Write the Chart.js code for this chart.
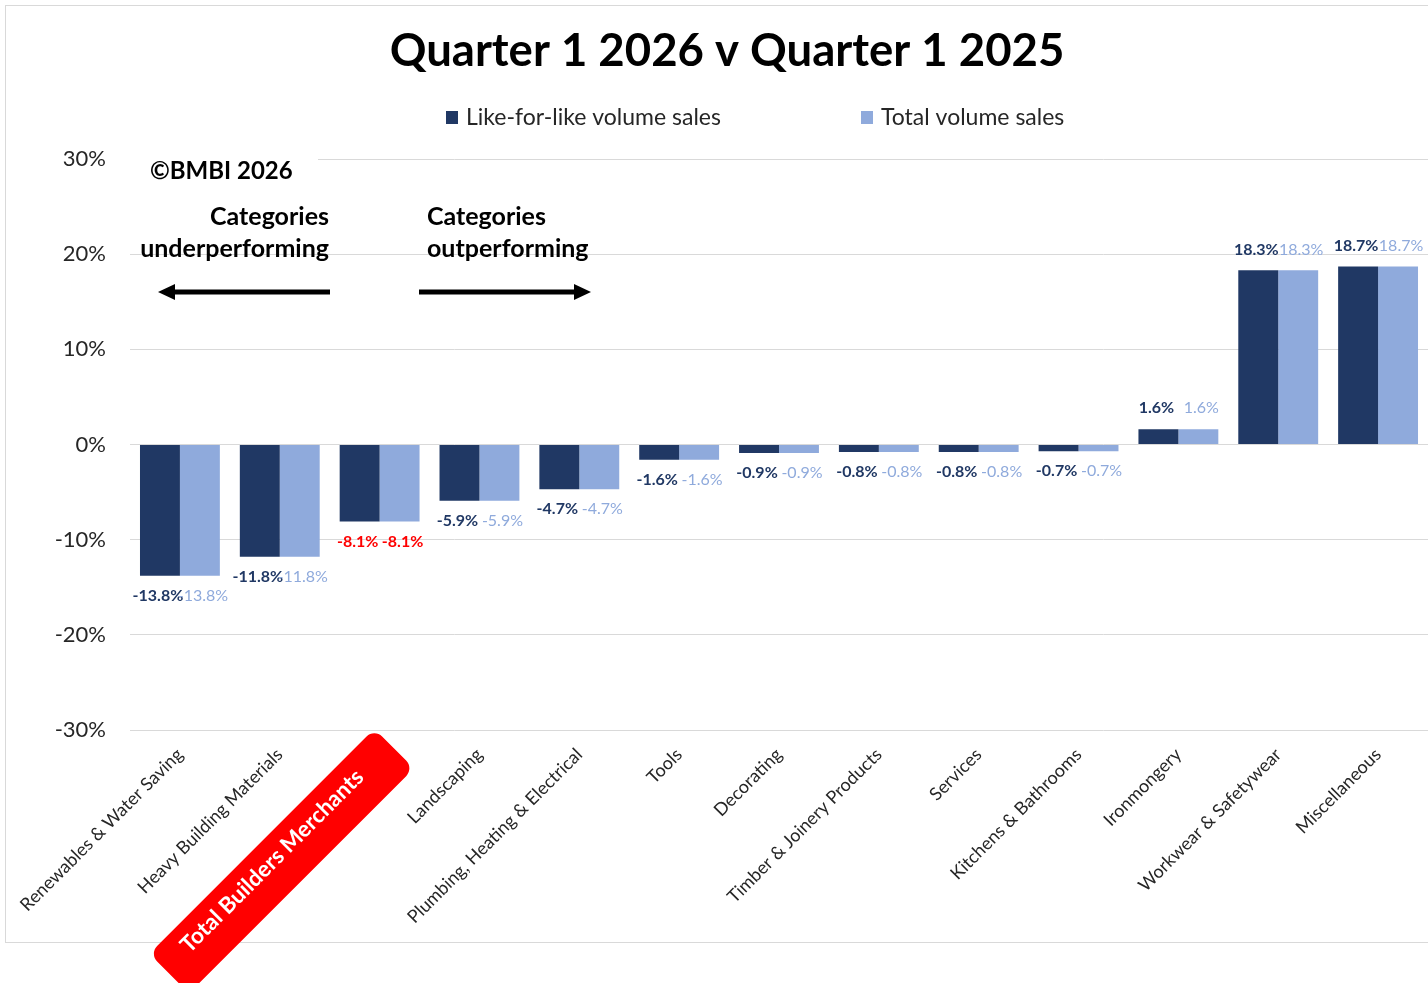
<!DOCTYPE html>
<html>
<head>
<meta charset="utf-8">
<title>Quarter 1 2026 v Quarter 1 2025</title>
<script src="https://cdn.jsdelivr.net/npm/chart.js@4.4.1/dist/chart.umd.min.js"></script>
<style>
    html, body { margin: 0; padding: 0; background: #fff; }
    canvas { display: block; }
</style>
</head>
<body>
<canvas id="salesChart" width="1428" height="983"></canvas>
<script>
// Chart data
const categories = [
    'Renewables & Water Saving',
    'Heavy Building Materials',
    'Total Builders Merchants',
    'Landscaping',
    'Plumbing, Heating & Electrical',
    'Tools',
    'Decorating',
    'Timber & Joinery Products',
    'Services',
    'Kitchens & Bathrooms',
    'Ironmongery',
    'Workwear & Safetywear',
    'Miscellaneous'
];
const likeForLike = [-13.8, -11.8, -8.1, -5.9, -4.7, -1.6, -0.9, -0.8, -0.8, -0.7, 1.6, 18.3, 18.7];
const totalVolume = [-13.8, -11.8, -8.1, -5.9, -4.7, -1.6, -0.9, -0.8, -0.8, -0.7, 1.6, 18.3, 18.7];
const yTicks = [-30, -20, -10, 0, 10, 20, 30];
const seriesNames = ['Like-for-like volume sales', 'Total volume sales'];
const highlightIndex = 2; // Total Builders Merchants

const FONT = 'Lato, "Open Sans", sans-serif';
const DARK = '#203864';
const LIGHT = '#8faadc';
const RED = '#ff0000';
const GRID = '#d9d9d9';
const HOT_FONT = 'bold 22.5px ' + FONT;
const HOT_SUFFIX = '\u2002\u2002 '; // pushes the badge label a little down the slant

// Frame, background and the red badge behind the highlighted category
const backdrop = {
    id: 'backdrop',
    beforeDraw(chart) {
        const ctx = chart.ctx;
        ctx.save();
        ctx.fillStyle = '#fff';
        ctx.fillRect(0, 0, chart.width, chart.height);
        ctx.strokeStyle = GRID;
        ctx.lineWidth = 1;
        ctx.strokeRect(5.5, 5.5, chart.width + 20, 937);

        const x = chart.scales.x;
        const px = x.getPixelForTick(highlightIndex);
        const py = x.top + x.options.ticks.padding;
        ctx.font = HOT_FONT;
        const w = ctx.measureText(categories[highlightIndex]).width;
        const s = ctx.measureText(HOT_SUFFIX).width;
        ctx.translate(px, py);
        ctx.rotate(-Math.PI / 4);
        ctx.fillStyle = RED;
        ctx.beginPath();
        ctx.roundRect(-s - w - 35, 13.5 - 28, w + 70, 56, 11);
        ctx.fill();
        ctx.restore();
    }
};

// Value labels under / over each bar
const barLabels = {
    id: 'barLabels',
    afterDatasetsDraw(chart) {
        const ctx = chart.ctx;
        chart.data.datasets.forEach((ds, di) => {
            const meta = chart.getDatasetMeta(di);
            meta.data.forEach((bar, i) => {
                const v = ds.data[i];
                const hot = i === highlightIndex;
                ctx.save();
                ctx.font = (di === 0 || hot ? 'bold ' : '') + '16px ' + FONT;
                ctx.fillStyle = hot ? RED : (di === 0 ? DARK : LIGHT);
                ctx.textAlign = 'center';
                ctx.textBaseline = 'middle';
                const y = v < 0 ? bar.y + 20 : bar.y - 21;
                ctx.fillText(v.toFixed(1) + '%', bar.x + (di === 0 ? -2 : 3), y);
                ctx.restore();
            });
        });
    }
};

// Title, legend and the notes in the top-left corner
const decorations = {
    id: 'decorations',
    afterDraw(chart) {
        const ctx = chart.ctx;
        const area = chart.chartArea;
        ctx.save();

        ctx.fillStyle = '#000';
        ctx.textAlign = 'center';
        ctx.textBaseline = 'middle';
        ctx.font = 'bold 45.5px ' + FONT;
        ctx.fillText('Quarter 1 2026 v Quarter 1 2025', 727, 51);

        // legend
        const legendX = [446, 861];
        ctx.font = '23px ' + FONT;
        ctx.textAlign = 'left';
        chart.data.datasets.forEach((ds, di) => {
            ctx.fillStyle = ds.backgroundColor;
            ctx.fillRect(legendX[di], 111, 12, 13);
            ctx.fillStyle = '#262626';
            ctx.fillText(ds.label, legendX[di] + 20, 118);
        });

        // copyright box sits over the top gridline
        const yTop = chart.scales.y.getPixelForValue(30);
        ctx.fillStyle = '#fff';
        ctx.fillRect(area.left, yTop - 3, 188, 6);
        ctx.fillStyle = '#000';
        ctx.font = 'bold 24px ' + FONT;
        ctx.fillText('\u00A9BMBI 2026', 150, 171);

        ctx.font = 'bold 25px ' + FONT;
        ctx.textAlign = 'right';
        ctx.fillText('Categories', 329, 217);
        ctx.fillText('underperforming', 329, 249);
        ctx.textAlign = 'left';
        ctx.fillText('Categories', 427, 217);
        ctx.fillText('outperforming', 427, 249);

        // arrows
        drawArrow(ctx, 330, 158, 292);
        drawArrow(ctx, 419, 591, 292);
        ctx.restore();
    }
};

function drawArrow(ctx, from, to, y) {
    const dir = Math.sign(to - from);
    const head = 17;
    ctx.strokeStyle = '#000';
    ctx.lineWidth = 5;
    ctx.beginPath();
    ctx.moveTo(from, y);
    ctx.lineTo(to - dir * head, y);
    ctx.stroke();
    ctx.fillStyle = '#000';
    ctx.beginPath();
    ctx.moveTo(to, y);
    ctx.lineTo(to - dir * head, y - 8);
    ctx.lineTo(to - dir * head, y + 8);
    ctx.closePath();
    ctx.fill();
}

new Chart(document.getElementById('salesChart'), {
    type: 'bar',
    data: {
        labels: categories,
        datasets: [
            {
                label: seriesNames[0],
                data: likeForLike,
                backgroundColor: DARK,
                categoryPercentage: 0.8,
                barPercentage: 1.0
            },
            {
                label: seriesNames[1],
                data: totalVolume,
                backgroundColor: LIGHT,
                categoryPercentage: 0.8,
                barPercentage: 1.0
            }
        ]
    },
    options: {
        responsive: false,
        animation: false,
        layout: {
            padding: { top: 159, left: 0, right: 0, bottom: 0 }
        },
        plugins: {
            legend: { display: false },
            title: { display: false },
            tooltip: { enabled: false }
        },
        scales: {
            x: {
                grid: { display: false, drawTicks: false },
                border: { display: false },
                ticks: {
                    autoSkip: false,
                    maxRotation: 45,
                    minRotation: 45,
                    padding: 14,
                    color: ctx => ctx.index === highlightIndex ? '#fff' : '#262626',
                    font: ctx => ctx.index === highlightIndex
                        ? { family: FONT, size: 22.5, weight: 'bold' }
                        : { family: FONT, size: 18 },
                    callback: (value, i) => i === highlightIndex ? categories[i] + HOT_SUFFIX : categories[i]
                },
                afterFit: scale => {
                    scale.height = 253;
                    scale.paddingLeft = 0;
                    scale.paddingRight = 0;
                }
            },
            y: {
                min: -30,
                max: 30,
                grid: { color: GRID, drawTicks: false },
                border: { display: false },
                afterBuildTicks: scale => {
                    scale.ticks = yTicks.map(v => ({ value: v }));
                },
                ticks: {
                    padding: 24,
                    color: '#262626',
                    font: { family: FONT, size: 22 },
                    callback: v => v + '%'
                },
                afterFit: scale => {
                    scale.width = 130;
                }
            }
        }
    },
    plugins: [backdrop, barLabels, decorations]
});
</script>
</body>
</html>
